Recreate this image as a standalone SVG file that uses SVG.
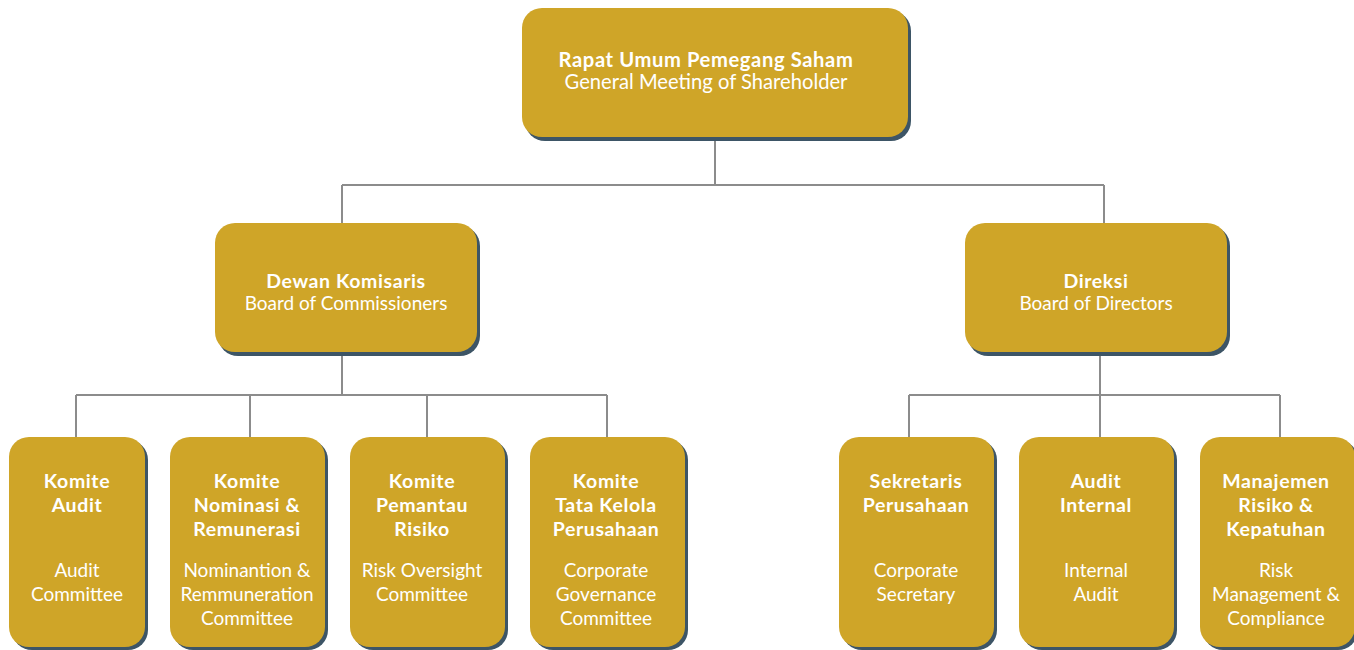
<svg xmlns="http://www.w3.org/2000/svg" width="1354" height="650" viewBox="0 0 1354 650">
<style>
.sh{fill:#3d5566}
.bx{fill:#cfa528}
.b{font-family:Lato,"Open Sans",sans-serif;font-weight:700;font-size:19.5px;letter-spacing:0.6px;fill:#fff;text-anchor:middle}
.r{font-family:Lato,"Open Sans",sans-serif;font-weight:400;font-size:19px;fill:#fff;text-anchor:middle}
.t{font-size:20.2px}
.c{fill:none;stroke:#8c8c8c;stroke-width:2}
</style>
<rect width="1354" height="650" fill="#fff"/>
<g id="connectors">
<path class="c" d="M715 137V185M342 185H1104M342 185V223M1104 185V223"/>
<path class="c" d="M342 353V395M76 395H607M76 395V437M250 395V437M427 395V437M607 395V437"/>
<path class="c" d="M1100 353V395M909 395H1280M909 395V437M1100 395V437M1280 395V437"/>
</g>
<g id="rups">
<rect class="sh" x="525" y="11" width="386" height="130" rx="20"/>
<rect class="bx" x="522" y="8" width="386" height="129" rx="20"/>
<text class="b t" x="706" y="67">Rapat Umum Pemegang Saham</text>
<text class="r t" x="706" y="89">General Meeting of Shareholder</text>
</g>
<g id="dewan">
<rect class="sh" x="218" y="226" width="262" height="130" rx="20"/>
<rect class="bx" x="215" y="223" width="262" height="129" rx="20"/>
<text class="b" x="346" y="288">Dewan Komisaris</text>
<text class="r" x="346" y="310">Board of Commissioners</text>
</g>
<g id="direksi">
<rect class="sh" x="968" y="226" width="262" height="130" rx="20"/>
<rect class="bx" x="965" y="223" width="262" height="129" rx="20"/>
<text class="b" x="1096" y="288">Direksi</text>
<text class="r" x="1096" y="310">Board of Directors</text>
</g>
<g id="komite-audit">
<rect class="sh" x="12" y="440" width="136" height="210" rx="20"/>
<rect class="bx" x="9" y="437" width="136" height="210" rx="20"/>
<text class="b" x="77" y="488">Komite</text>
<text class="b" x="77" y="512">Audit</text>
<text class="r" x="77" y="577">Audit</text>
<text class="r" x="77" y="601">Committee</text>
</g>
<g id="komite-nominasi">
<rect class="sh" x="173" y="440" width="155" height="210" rx="20"/>
<rect class="bx" x="170" y="437" width="155" height="210" rx="20"/>
<text class="b" x="247" y="488">Komite</text>
<text class="b" x="247" y="512">Nominasi &amp;</text>
<text class="b" x="247" y="536">Remunerasi</text>
<text class="r" x="247" y="577">Nominantion &amp;</text>
<text class="r" x="247" y="601">Remmuneration</text>
<text class="r" x="247" y="625">Committee</text>
</g>
<g id="komite-risiko">
<rect class="sh" x="353" y="440" width="155" height="210" rx="20"/>
<rect class="bx" x="350" y="437" width="155" height="210" rx="20"/>
<text class="b" x="422" y="488">Komite</text>
<text class="b" x="422" y="512">Pemantau</text>
<text class="b" x="422" y="536">Risiko</text>
<text class="r" x="422" y="577">Risk Oversight</text>
<text class="r" x="422" y="601">Committee</text>
</g>
<g id="komite-tata-kelola">
<rect class="sh" x="533" y="440" width="155" height="210" rx="20"/>
<rect class="bx" x="530" y="437" width="155" height="210" rx="20"/>
<text class="b" x="606" y="488">Komite</text>
<text class="b" x="606" y="512">Tata Kelola</text>
<text class="b" x="606" y="536">Perusahaan</text>
<text class="r" x="606" y="577">Corporate</text>
<text class="r" x="606" y="601">Governance</text>
<text class="r" x="606" y="625">Committee</text>
</g>
<g id="sekretaris">
<rect class="sh" x="842" y="440" width="155" height="210" rx="20"/>
<rect class="bx" x="839" y="437" width="155" height="210" rx="20"/>
<text class="b" x="916" y="488">Sekretaris</text>
<text class="b" x="916" y="512">Perusahaan</text>
<text class="r" x="916" y="577">Corporate</text>
<text class="r" x="916" y="601">Secretary</text>
</g>
<g id="audit-internal">
<rect class="sh" x="1022" y="440" width="155" height="210" rx="20"/>
<rect class="bx" x="1019" y="437" width="155" height="210" rx="20"/>
<text class="b" x="1096" y="488">Audit</text>
<text class="b" x="1096" y="512">Internal</text>
<text class="r" x="1096" y="577">Internal</text>
<text class="r" x="1096" y="601">Audit</text>
</g>
<g id="manajemen-risiko">
<rect class="sh" x="1203" y="440" width="155" height="210" rx="20"/>
<rect class="bx" x="1200" y="437" width="155" height="210" rx="20"/>
<text class="b" x="1276" y="488">Manajemen</text>
<text class="b" x="1276" y="512">Risiko &amp;</text>
<text class="b" x="1276" y="536">Kepatuhan</text>
<text class="r" x="1276" y="577">Risk</text>
<text class="r" x="1276" y="601">Management &amp;</text>
<text class="r" x="1276" y="625">Compliance</text>
</g>
</svg>
